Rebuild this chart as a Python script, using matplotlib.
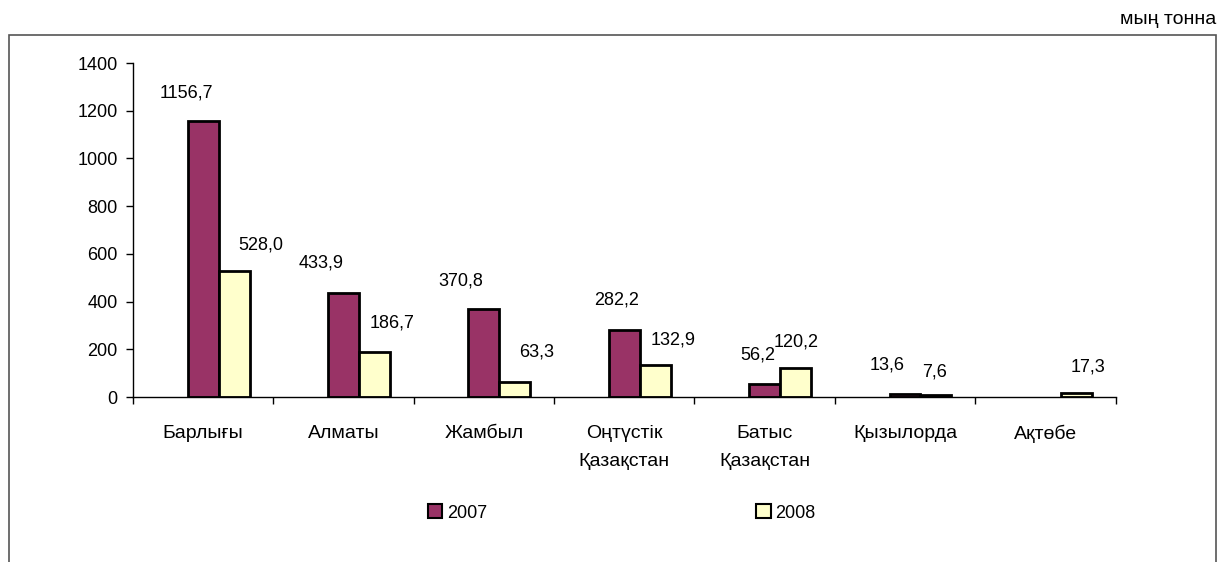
import matplotlib
matplotlib.use("Agg")
import matplotlib.pyplot as plt
import matplotlib.patches as mpatches
import numpy as np

plt.rcParams['font.family'] = ['Liberation Sans', 'DejaVu Sans']

categories = ["Барлығы", "Алматы", "Жамбыл", "Оңтүстік\nҚазақстан",
              "Батыс\nҚазақстан", "Қызылорда", "Ақтөбе"]
values_2007 = [1156.7, 433.9, 370.8, 282.2, 56.2, 13.6, None]
values_2008 = [528.0, 186.7, 63.3, 132.9, 120.2, 7.6, 17.3]
series_names = ["2007", "2008"]
unit_text = "мың тонна"
yticks = [0, 200, 400, 600, 800, 1000, 1200, 1400]

# label placement offsets (pixels) relative to bar top-center
dx_2007 = [-17, -22, -23, -8, -7, -18, 0]
dy_2007 = [28, 30, 28, 30, 29, 29, 0]
dx_2008 = [27, 18, 22, 18, 1, -1, 12]
dy_2008 = [26, 29, 30, 25, 26, 23, 26]

c2007 = "#993366"
c2008 = "#FFFFCC"
fs_num = 13
fs_txt = 14

fig = plt.figure(figsize=(12.21, 5.62), dpi=100)
ax = fig.add_axes([133/1221, 1-397/562, (1115.6-133)/1221, (397-63)/562])

x = np.arange(len(categories))
w = 0.22
v07 = np.array([np.nan if v is None else v for v in values_2007], dtype=float)
v08 = np.array(values_2008, dtype=float)
b1 = ax.bar(x, np.nan_to_num(v07), width=w, color=c2007, edgecolor="black", linewidth=2.0, label=series_names[0])
b2 = ax.bar(x + w, v08, width=w, color=c2008, edgecolor="black", linewidth=2.0, label=series_names[1])
for i, v in enumerate(v07):
    if np.isnan(v):
        b1[i].set_visible(False)

def fmt(v):
    return f"{v:.1f}".replace(".", ",")

for i, v in enumerate(v07):
    if np.isnan(v):
        continue
    ax.annotate(fmt(v), xy=(x[i], v), xytext=(dx_2007[i], dy_2007[i]),
                textcoords="offset pixels", ha="center", va="center", fontsize=fs_num)
for i, v in enumerate(v08):
    ax.annotate(fmt(v), xy=(x[i] + w, v), xytext=(dx_2008[i], dy_2008[i]),
                textcoords="offset pixels", ha="center", va="center", fontsize=fs_num)

ax.set_xlim(-0.5, len(categories) - 0.5)
ax.set_ylim(0, 1400)
ax.set_yticks(yticks)
ax.set_yticklabels([str(t) for t in yticks], fontsize=fs_num)
ax.set_xticks(x)
ax.set_xticklabels(categories, fontsize=fs_txt, linespacing=1.85, va="top")
ax.set_xticks(np.arange(-0.5, len(categories), 1.0), minor=True)
ax.tick_params(axis="x", which="major", length=0, pad=20)
ax.tick_params(axis="x", which="minor", length=5, width=1, direction="out")
ax.tick_params(axis="y", length=5, width=1, direction="out", pad=6)
for s in ["top", "right"]:
    ax.spines[s].set_visible(False)
for s in ["left", "bottom"]:
    ax.spines[s].set_linewidth(1)
    ax.spines[s].set_color("black")

handles = [mpatches.Patch(facecolor=c2007, edgecolor="black", linewidth=1.5),
           mpatches.Patch(facecolor=c2008, edgecolor="black", linewidth=1.5)]
fig.legend(handles, series_names, loc="center", bbox_to_anchor=(622/1221, 1-513/562),
           ncol=2, frameon=False, fontsize=fs_num, handlelength=0.78, handleheight=0.78,
           handletextpad=0.28, columnspacing=14.9)

frame = mpatches.Rectangle((9/1221, -0.05), (1216-9)/1221, (1-35/562) + 0.05,
                           transform=fig.transFigure, fill=False, edgecolor="#555555",
                           linewidth=1.2, clip_on=False)
fig.add_artist(frame)
fig.text(1216/1221, 1-19/562, unit_text, ha="right", va="center", fontsize=fs_txt)

fig.savefig("out.png", dpi=100)
